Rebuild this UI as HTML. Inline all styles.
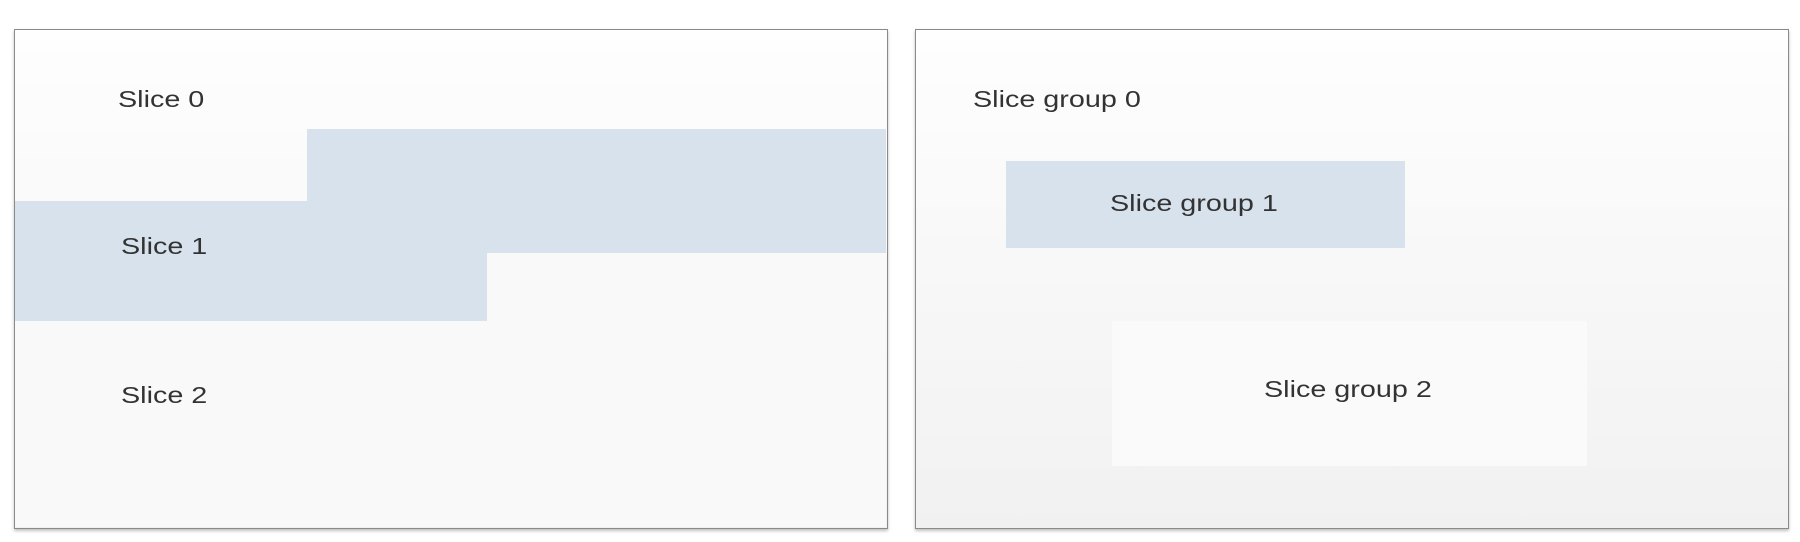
<!DOCTYPE html>
<html><head><meta charset="utf-8"><style>
body{margin:0;width:1800px;height:542px;background:#fff;position:relative;overflow:hidden;font-family:"Liberation Sans",sans-serif;}
.box{position:absolute;top:29px;height:498px;border:1px solid #8a8a8a;box-shadow:0 2px 3px rgba(0,0,0,0.25);background:linear-gradient(#fefefe,#f1f1f1);}
.r{position:absolute;}
.blue{background:#d7e2ed;}
.dot{background:#f9f9f9;}
.t{position:absolute;font-size:23px;color:#333;white-space:nowrap;transform:scaleX(1.25);transform-origin:0 50%;}
</style></head><body>
<div class="box" style="left:14px;width:872px;"></div>
<div class="box" style="left:915px;width:872px;"></div>
<div class="r dot" style="left:15px;top:321px;width:871px;height:206px;"></div>
<div class="r dot" style="left:487px;top:253px;width:399px;height:70px;"></div>
<div class="r blue" style="left:307px;top:129px;width:579px;height:124px;"></div>
<div class="r blue" style="left:15px;top:201px;width:472px;height:120px;"></div>
<div class="r blue" style="left:1006px;top:161px;width:399px;height:87px;"></div>
<div class="r dot" style="left:1112px;top:321px;width:475px;height:145px;background:#fafafa;"></div>
<div class="t" style="left:118px;top:86px;">Slice 0</div>
<div class="t" style="left:121px;top:233px;">Slice 1</div>
<div class="t" style="left:121px;top:382px;">Slice 2</div>
<div class="t" style="left:973px;top:86px;">Slice group 0</div>
<div class="t" style="left:1110px;top:190px;">Slice group 1</div>
<div class="t" style="left:1264px;top:376px;">Slice group 2</div>
</body></html>
